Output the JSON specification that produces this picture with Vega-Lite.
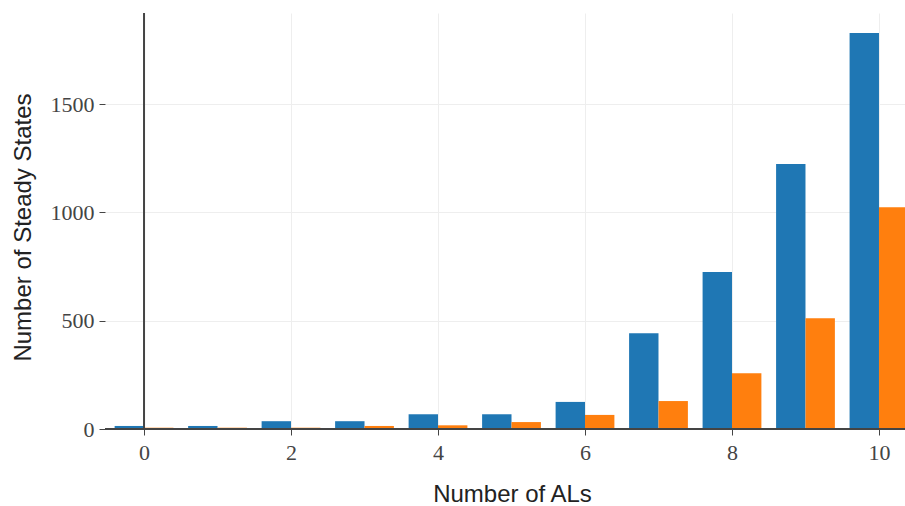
{
  "$schema": "https://vega.github.io/schema/vega-lite/v6.json",
  "width": 800,
  "height": 416,
  "autosize": "none",
  "padding": {"left": 105, "top": 13, "right": 0, "bottom": 77},
  "background": "white",
  "config": {"view": {"stroke": null}},
  "data": {
    "values": [
      {"n": 0, "series": "S1", "count": 14},
      {"n": 1, "series": "S1", "count": 14},
      {"n": 2, "series": "S1", "count": 36},
      {"n": 3, "series": "S1", "count": 36},
      {"n": 4, "series": "S1", "count": 68},
      {"n": 5, "series": "S1", "count": 68},
      {"n": 6, "series": "S1", "count": 125},
      {"n": 7, "series": "S1", "count": 442},
      {"n": 8, "series": "S1", "count": 725},
      {"n": 9, "series": "S1", "count": 1223},
      {"n": 10, "series": "S1", "count": 1828},
      {"n": 0, "series": "S2", "count": 6},
      {"n": 1, "series": "S2", "count": 6},
      {"n": 2, "series": "S2", "count": 6},
      {"n": 3, "series": "S2", "count": 14},
      {"n": 4, "series": "S2", "count": 17},
      {"n": 5, "series": "S2", "count": 32},
      {"n": 6, "series": "S2", "count": 65},
      {"n": 7, "series": "S2", "count": 129},
      {"n": 8, "series": "S2", "count": 257},
      {"n": 9, "series": "S2", "count": 511},
      {"n": 10, "series": "S2", "count": 1023}
    ]
  },
  "layer": [
    {
      "transform": [{"filter": "datum.series === 'S1'"}],
      "mark": {"type": "bar", "width": 29.4, "xOffset": -14.7, "clip": true, "color": "#1f77b4"},
      "encoding": {
        "x": {
          "field": "n", "type": "quantitative",
          "scale": {"domain": [-0.531, 10.354], "nice": false, "zero": false, "padding": 0},
          "axis": {
            "title": "Number of ALs",
            "values": [0, 2, 4, 6, 8, 10],
            "format": "d",
            "grid": true, "gridColor": "#eeeeee", "gridWidth": 1,
            "domain": false,
            "tickColor": "#444444", "tickSize": 6, "tickWidth": 1,
            "labelFont": "Liberation Serif", "labelFontSize": 22, "labelColor": "#444444", "labelPadding": 7,
            "titleFont": "Liberation Sans", "titleFontSize": 24, "titleFontWeight": "normal", "titleColor": "#222222",
            "titleX": 407, "titleY": 72, "titleAlign": "center", "titleBaseline": "alphabetic"
          }
        },
        "y": {
          "field": "count", "type": "quantitative",
          "scale": {"domain": [0, 1920], "nice": false, "padding": 0},
          "axis": {
            "title": "Number of Steady States",
            "values": [0, 500, 1000, 1500],
            "format": "d",
            "grid": true, "gridColor": "#eeeeee", "gridWidth": 1,
            "domain": false,
            "tickColor": "#444444", "tickSize": 6, "tickWidth": 1,
            "labelFont": "Liberation Serif", "labelFontSize": 22, "labelColor": "#444444", "labelPadding": 5,
            "titleFont": "Liberation Sans", "titleFontSize": 24, "titleFontWeight": "normal", "titleColor": "#222222",
            "titleX": -82, "titleY": 214, "titleAngle": -90, "titleAlign": "center", "titleBaseline": "middle"
          }
        }
      }
    },
    {
      "transform": [{"filter": "datum.series === 'S2'"}],
      "mark": {"type": "bar", "width": 29.4, "xOffset": 14.7, "clip": true, "color": "#ff7f0e"},
      "encoding": {
        "x": {"field": "n", "type": "quantitative"},
        "y": {"field": "count", "type": "quantitative"}
      }
    },
    {
      "data": {"values": [{}]},
      "mark": {"type": "rule", "color": "#444444", "strokeWidth": 2},
      "encoding": {"y": {"datum": 0}}
    },
    {
      "data": {"values": [{}]},
      "mark": {"type": "rule", "color": "#444444", "strokeWidth": 2},
      "encoding": {"x": {"datum": 0}}
    }
  ]
}
